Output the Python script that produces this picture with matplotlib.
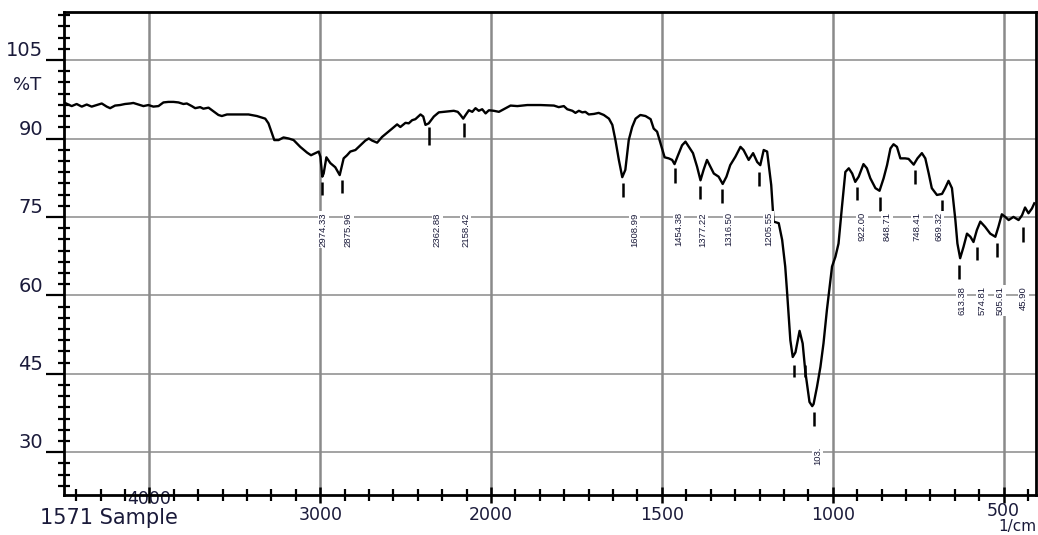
import matplotlib
matplotlib.use("Agg")
import matplotlib.pyplot as plt
import matplotlib.transforms as mtransforms
import numpy as np

# spectrum (wavenumber 1/cm, %T)
wavenumber = [4494, 4455, 4426, 4396, 4367, 4338, 4308, 4279, 4250, 4230, 4201, 4172,
              4143, 4113, 4094, 4065, 4035, 4006, 3977, 3947, 3918, 3889, 3859, 3830,
              3801, 3781, 3752, 3732, 3703, 3684, 3654, 3625, 3596, 3576, 3546, 3468,
              3420, 3371, 3322, 3303, 3283, 3269, 3244, 3215, 3185, 3156, 3117, 3077,
              3054, 3029, 3009, 2999, 2988, 2980, 2964, 2941, 2912, 2886, 2863, 2843,
              2824, 2794, 2765, 2736, 2716, 2696, 2667, 2638, 2608, 2579, 2550, 2531,
              2501, 2482, 2462, 2443, 2413, 2397, 2384, 2365, 2335, 2306, 2277, 2247,
              2218, 2195, 2179, 2163, 2149, 2130, 2110, 2091, 2072, 2052, 2032, 2013,
              1992, 1977, 1963, 1943, 1923, 1894, 1855, 1816, 1802, 1787, 1777, 1762,
              1753, 1743, 1733, 1724, 1714, 1699, 1685, 1670, 1655, 1645, 1636, 1626,
              1616, 1607, 1597, 1587, 1577, 1563, 1548, 1533, 1524, 1514, 1504, 1492,
              1480, 1470, 1463, 1454, 1441, 1431, 1421, 1409, 1397, 1387, 1378, 1368,
              1358, 1348, 1334, 1322, 1311, 1300, 1285, 1270, 1261, 1246, 1233, 1221,
              1212, 1202, 1192, 1180, 1173, 1158, 1148, 1139, 1134, 1124, 1117, 1109,
              1097, 1088, 1080, 1068, 1060, 1056, 1046, 1036, 1027, 1017, 1002, 992,
              983, 973, 963, 953, 943, 934, 924, 910, 900, 890, 875, 863,
              851, 841, 831, 822, 812, 802, 788, 778, 763, 752, 739, 729,
              719, 710, 695, 680, 671, 661, 651, 641, 635, 627, 617, 607,
              597, 588, 578, 568, 554, 539, 524, 515, 505, 495, 485, 471,
              456, 446, 437, 427, 417, 410]
transmittance = [96.8, 96.2, 96.6, 96.1, 96.5, 96.1, 96.4, 96.7, 96.1, 95.8, 96.3, 96.4,
                 96.6, 96.7, 96.8, 96.5, 96.2, 96.4, 96.1, 96.2, 96.9, 97.0, 97.0, 96.9,
                 96.6, 96.7, 96.2, 95.8, 96.0, 95.7, 95.9, 95.2, 94.5, 94.3, 94.6, 94.6,
                 94.6, 94.3, 93.8, 92.9, 91.0, 89.7, 89.7, 90.2, 90.0, 89.7, 88.4, 87.3,
                 86.8, 87.2, 87.5, 86.5, 82.7, 83.3, 86.4, 85.3, 84.5, 83.0, 86.2, 86.8,
                 87.5, 87.8, 88.7, 89.6, 90.0, 89.6, 89.2, 90.3, 91.1, 91.9, 92.7, 92.2,
                 93.0, 92.9, 93.5, 93.7, 94.6, 94.2, 92.6, 92.9, 94.2, 95.0, 95.1, 95.2,
                 95.3, 95.1, 94.5, 93.8, 94.5, 95.4, 95.1, 95.8, 95.3, 95.6, 94.8, 95.4,
                 95.3, 95.1, 95.6, 96.3, 96.2, 96.4, 96.4, 96.3, 96.0, 96.2, 95.6, 95.3,
                 94.9, 95.3, 95.0, 95.1, 94.6, 94.7, 94.9, 94.5, 93.8, 92.6, 89.7, 85.9,
                 82.6, 84.0, 89.7, 92.2, 93.8, 94.5, 94.3, 93.7, 91.9, 91.3, 89.1, 86.4,
                 86.2, 85.9, 85.1, 86.6, 88.7, 89.4, 88.4, 87.2, 84.6, 82.0, 84.0, 85.9,
                 84.6, 83.3, 82.7, 81.3, 82.7, 84.9, 86.5, 88.4, 87.8, 85.9, 87.2, 85.5,
                 84.9, 87.8, 87.5, 81.1, 74.1, 73.8, 70.6, 65.5, 61.0, 51.4, 48.2, 49.1,
                 53.2, 50.8, 45.3, 39.6, 38.8, 39.2, 42.5, 46.3, 50.8, 57.2, 65.5, 67.4,
                 69.9, 76.9, 83.6, 84.3, 83.3, 81.7, 82.7, 85.1, 84.3, 82.4, 80.5, 80.0,
                 82.4, 84.9, 88.1, 88.9, 88.4, 86.2, 86.2, 86.1, 85.0, 86.2, 87.2, 86.2,
                 83.3, 80.5, 79.2, 79.4, 80.5, 81.9, 80.5, 74.4, 69.9, 67.1, 69.3, 71.8,
                 71.2, 70.2, 72.5, 74.1, 73.1, 71.8, 71.2, 73.1, 75.5, 75.0, 74.4, 75.0,
                 74.4, 75.3, 76.8, 75.7, 76.6, 77.6]

# peak table
peak_labels = ["2974.33", "2875.96", "2362.88", "2158.42", "1608.99", "1454.38", "1377.22",
               "1316.50", "1205.55", "922.00", "848.71", "748.41", "669.32", "613.38",
               "574.81", "505.61", "45.90", "103."]
peak_label_wn = [2982, 2835, 2314, 2149, 1580, 1452, 1381, 1305, 1188, 914, 841, 753, 690,
                 622, 563, 510, 442, 1045]
peak_label_top = [75.9] * 13 + [61.8] * 4 + [31.0]

mark_wn = [2988, 2871, 2366, 2161, 1615, 1463, 1387, 1323, 1215, 929, 861, 758, 680,
           629, 578, 519, 444, 1056, 1112, 1080]
mark_top = [81.7, 82.0, 92.2, 92.9, 81.5, 84.3, 80.9, 80.3, 83.6, 80.7, 78.8, 84.0, 78.2,
            65.8, 69.2, 70.0, 73.1, 37.7, 46.7, 46.7]
mark_bottom = [79.2, 79.6, 88.7, 90.3, 78.8, 81.5, 78.4, 77.6, 80.9, 78.2, 76.1, 81.3, 75.7,
               63.1, 66.7, 67.3, 70.2, 35.0, 44.4, 44.4]

x_major = [4000, 3000, 2000, 1500, 1000, 500]
y_major = [30, 45, 60, 75, 90, 105]

txt_col = "#1a1a3a"
grid_col = "#8a8a8a"


# IR chart: scale halves above 2000 1/cm
def fwd(w):
    w = np.asarray(w, dtype=float)
    return np.where(w >= 2000, (w - 2000) / 2.0, w - 2000)


def inv(u):
    u = np.asarray(u, dtype=float)
    return np.where(u >= 0, 2000 + 2 * u, 2000 + u)


plt.rcParams["font.family"] = "DejaVu Sans"

fig = plt.figure(figsize=(10.38, 5.35), dpi=100)
ax = fig.add_axes([64 / 1038, 40 / 535, 972 / 1038, 483 / 535])
ax.set_xscale("function", functions=(fwd, inv))
ax.set_xlim(4500, 405)
ax.set_ylim(21.8, 114.2)

x_minor = [4000 + k * 1000 / 7 for k in range(1, 4)]
x_minor += [4000 - k * 1000 / 7 for k in range(1, 14) if k != 7]
x_minor += [2000 - k * 500 / 7 for k in range(1, 23) if k % 7 != 0]
y_minor = [30 + k * 15 / 7 for k in range(-3, 40) if k % 7 != 0 and 30 + k * 15 / 7 < 114.2]

ax.set_xticks(x_major)
ax.set_xticks(x_minor, minor=True)
ax.set_xticklabels([str(v) for v in x_major])
ax.set_yticks(y_major)
ax.set_yticks(y_minor, minor=True)
ax.set_yticklabels([str(v) for v in y_major])

ax.tick_params(axis="x", which="major", direction="inout", length=12, width=1.8,
               labelsize=12.5, labelcolor=txt_col, pad=2)
ax.tick_params(axis="x", which="minor", direction="inout", length=8, width=1.6)
ax.tick_params(axis="y", which="major", direction="out", length=13, width=1.6,
               labelsize=14, labelcolor=txt_col, pad=2)
ax.tick_params(axis="y", which="minor", direction="inout", length=9, width=1.6)

# labels of the y ticks sit one minor step above the grid line
up = mtransforms.ScaledTranslation(0, 11.2 / 100, fig.dpi_scale_trans)
for lab in ax.get_yticklabels():
    lab.set_transform(lab.get_transform() + up)
xlabs = ax.get_xticklabels()
xlabs[0].set_transform(xlabs[0].get_transform() + mtransforms.ScaledTranslation(0, 16 / 100, fig.dpi_scale_trans))
xlabs[-1].set_transform(xlabs[-1].get_transform() + mtransforms.ScaledTranslation(0, 4 / 100, fig.dpi_scale_trans))

for s in ax.spines.values():
    s.set_linewidth(2)

ax.grid(axis="x", which="major", color=grid_col, lw=1.8, zorder=0)
ax.grid(axis="y", which="major", color=grid_col, lw=1.1, zorder=0)
ax.set_axisbelow(True)

ax.plot(wavenumber, transmittance, color="black", lw=1.7, zorder=2)
ax.vlines(mark_wn, mark_bottom, mark_top, color="black", lw=1.8, zorder=2)

for lab, w, t in zip(peak_labels, peak_label_wn, peak_label_top):
    ax.text(w, t, lab, rotation=90, ha="center", va="top", fontsize=6.8,
            family="Liberation Sans", color=txt_col, zorder=3,
            bbox=dict(facecolor="white", edgecolor="none", pad=0.8))

fig.text(13 / 1038, 1 - 85 / 535, "%T", fontsize=13, color=txt_col, va="center", ha="left")
fig.text(40 / 1038, 1 - 518 / 535, "1571 Sample", fontsize=15, color=txt_col, va="center", ha="left")
fig.text(1036 / 1038, 1 - 527 / 535, "1/cm", fontsize=11, color=txt_col, va="center", ha="right")

fig.savefig("out.png", dpi=100)
